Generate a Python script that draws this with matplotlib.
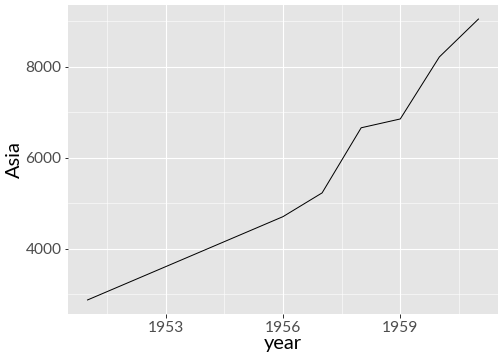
import matplotlib
matplotlib.use('Agg')
import matplotlib.pyplot as plt
from matplotlib.ticker import FixedLocator

# WorldPhones, Asia column
years = [1951, 1956, 1957, 1958, 1959, 1960, 1961]
asia = [2876, 4708, 5230, 6662, 6856, 8220, 9053]

x_ticks = [1953, 1956, 1959]
y_ticks = [4000, 6000, 8000]

plt.rcParams['font.family'] = ['Lato', 'DejaVu Sans']

fig = plt.figure(figsize=(7, 5), dpi=72)
ax = fig.add_axes([68 / 504, 46 / 360, 430 / 504, 309 / 360])
ax.set_facecolor('#E5E5E5')

ax.plot(years, asia, color='black', linewidth=1.0)

# ggplot style 5% expansion
xr = max(years) - min(years)
yr = max(asia) - min(asia)
ax.set_xlim(min(years) - 0.05 * xr, max(years) + 0.05 * xr)
ax.set_ylim(min(asia) - 0.05 * yr, max(asia) + 0.05 * yr)

ax.xaxis.set_major_locator(FixedLocator(x_ticks))
ax.xaxis.set_minor_locator(FixedLocator([1951.5, 1954.5, 1957.5, 1960.5]))
ax.yaxis.set_major_locator(FixedLocator(y_ticks))
ax.yaxis.set_minor_locator(FixedLocator([3000, 5000, 7000, 9000]))

ax.grid(which='major', color='white', linewidth=1.1)
ax.grid(which='minor', color='white', linewidth=0.55)
ax.set_axisbelow(True)
for s in ax.spines.values():
    s.set_visible(False)

ax.tick_params(which='major', length=3.5, width=1.0, color='#333333',
               labelcolor='#4D4D4D', labelsize=15.5, pad=3)
ax.tick_params(which='minor', length=0)

ax.set_xlabel('year', fontsize=20, labelpad=1)
ax.set_ylabel('Asia', fontsize=20, labelpad=3)

fig.savefig('out.png', dpi=72, facecolor='white')
